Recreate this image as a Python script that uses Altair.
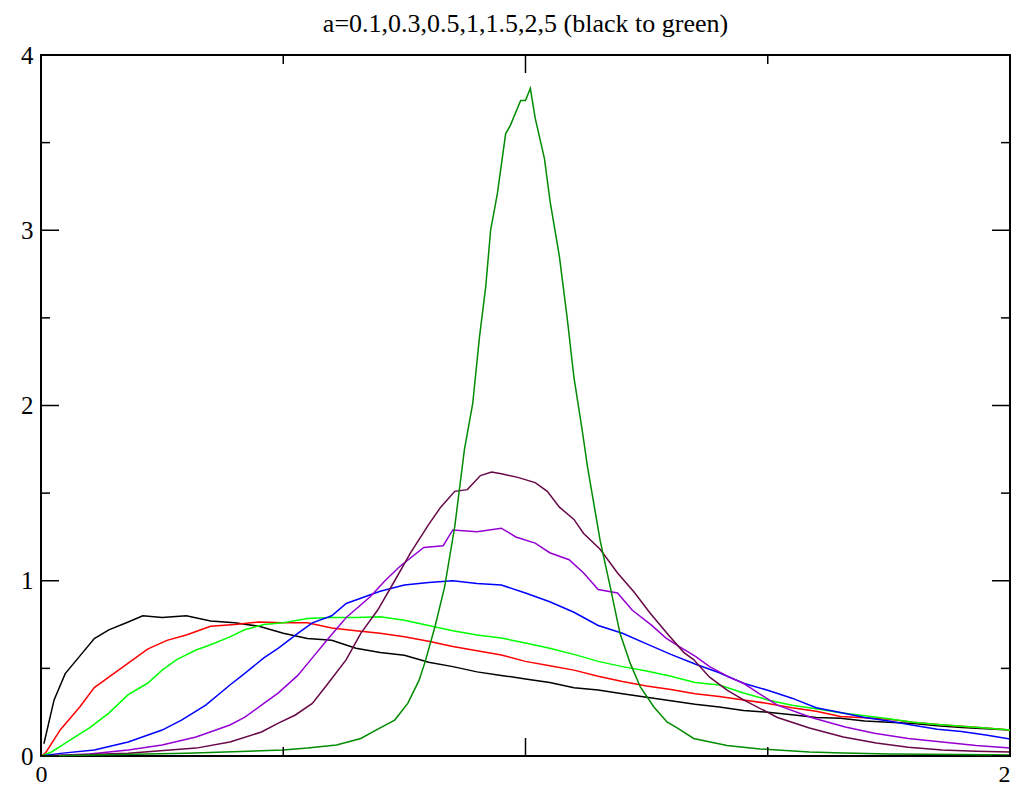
import altair as alt
import pandas as pd

TITLE = "a=0.1,0.3,0.5,1,1.5,2,5 (black to green)"

series_names = ["a=0.1", "a=0.3", "a=0.5", "a=1", "a=1.5", "a=2", "a=5"]
series_colors = ["#000000", "#ff0000", "#00ff00", "#0000ff", "#9400d3", "#670748", "#008b00"]

x_a01 = [0.006, 0.027, 0.05, 0.08, 0.11, 0.14, 0.18, 0.21, 0.25, 0.3, 0.35, 0.4, 0.45, 0.5, 0.55, 0.6, 0.65, 0.7,
         0.75, 0.8, 0.85, 0.9, 0.95, 1.0, 1.05, 1.1, 1.15, 1.2, 1.25, 1.3, 1.35, 1.4, 1.45, 1.5, 1.55, 1.6, 1.65,
         1.7, 1.75, 1.8, 1.85, 1.9, 1.95, 2.0]
y_a01 = [0.07, 0.32, 0.47, 0.57, 0.67, 0.72, 0.765, 0.80, 0.79, 0.80, 0.77, 0.76, 0.74, 0.70, 0.67, 0.66, 0.615, 0.59,
         0.575, 0.535, 0.51, 0.48, 0.46, 0.44, 0.42, 0.39, 0.376, 0.355, 0.335, 0.315, 0.295, 0.28, 0.26, 0.25, 0.235,
         0.22, 0.215, 0.20, 0.192, 0.186, 0.172, 0.163, 0.155, 0.148]

x_a03 = [0.0, 0.01, 0.04, 0.08, 0.11, 0.15, 0.18, 0.22, 0.26, 0.3, 0.35, 0.4, 0.45, 0.5, 0.55, 0.6, 0.65, 0.7, 0.75,
         0.8, 0.85, 0.9, 0.95, 1.0, 1.05, 1.1, 1.15, 1.2, 1.25, 1.3, 1.35, 1.4, 1.45, 1.5, 1.55, 1.6, 1.65, 1.7,
         1.75, 1.8, 1.85, 1.9, 1.95, 2.0]
y_a03 = [0.0, 0.02, 0.15, 0.28, 0.39, 0.47, 0.53, 0.61, 0.66, 0.69, 0.74, 0.75, 0.765, 0.76, 0.76, 0.73, 0.715, 0.70,
         0.68, 0.655, 0.625, 0.60, 0.576, 0.54, 0.515, 0.49, 0.455, 0.425, 0.40, 0.38, 0.355, 0.34, 0.32, 0.30,
         0.275, 0.255, 0.225, 0.218, 0.21, 0.192, 0.18, 0.17, 0.16, 0.148]

x_a05 = [0.0, 0.02, 0.06, 0.1, 0.14, 0.18, 0.22, 0.25, 0.28, 0.32, 0.35, 0.39, 0.42, 0.46, 0.5, 0.55, 0.6, 0.65, 0.7,
         0.75, 0.8, 0.85, 0.9, 0.95, 1.0, 1.05, 1.1, 1.15, 1.2, 1.25, 1.3, 1.35, 1.4, 1.45, 1.5, 1.55, 1.6, 1.65,
         1.7, 1.75, 1.8, 1.85, 1.9, 1.95, 2.0]
y_a05 = [0.0, 0.02, 0.09, 0.16, 0.245, 0.35, 0.415, 0.49, 0.55, 0.605, 0.635, 0.68, 0.72, 0.75, 0.76, 0.785, 0.79,
         0.79, 0.795, 0.775, 0.745, 0.715, 0.69, 0.673, 0.645, 0.615, 0.58, 0.54, 0.51, 0.485, 0.455, 0.42, 0.405,
         0.36, 0.32, 0.29, 0.27, 0.247, 0.23, 0.212, 0.192, 0.18, 0.17, 0.16, 0.148]

x_a1 = [0.0, 0.04, 0.11, 0.18, 0.25, 0.29, 0.34, 0.39, 0.42, 0.46, 0.49, 0.53, 0.56, 0.6, 0.63, 0.68, 0.7, 0.75, 0.8,
        0.85, 0.9, 0.95, 1.0, 1.05, 1.1, 1.15, 1.2, 1.25, 1.3, 1.35, 1.4, 1.45, 1.5, 1.55, 1.6, 1.65, 1.7, 1.75,
        1.8, 1.85, 1.9, 1.95, 2.0]
y_a1 = [0.0, 0.015, 0.034, 0.08, 0.148, 0.205, 0.29, 0.405, 0.47, 0.56, 0.616, 0.70, 0.76, 0.80, 0.87, 0.92, 0.94,
        0.976, 0.99, 1.0, 0.985, 0.976, 0.93, 0.88, 0.82, 0.745, 0.70, 0.64, 0.58, 0.525, 0.475, 0.415, 0.375,
        0.33, 0.275, 0.248, 0.22, 0.20, 0.175, 0.152, 0.14, 0.12, 0.097]

x_a15 = [0.0, 0.1, 0.18, 0.25, 0.32, 0.39, 0.42, 0.46, 0.49, 0.53, 0.56, 0.59, 0.63, 0.68, 0.71, 0.74, 0.79, 0.83,
         0.85, 0.9, 0.95, 0.98, 1.02, 1.05, 1.09, 1.12, 1.15, 1.19, 1.22, 1.26, 1.29, 1.32, 1.35, 1.38, 1.42, 1.45,
         1.48, 1.52, 1.59, 1.66, 1.72, 1.79, 1.86, 1.93, 2.0]
y_a15 = [0.0, 0.012, 0.034, 0.063, 0.108, 0.177, 0.22, 0.30, 0.36, 0.46, 0.56, 0.66, 0.79, 0.91, 1.0, 1.08, 1.19,
         1.20, 1.29, 1.28, 1.30, 1.25, 1.215, 1.16, 1.12, 1.044, 0.95, 0.93, 0.833, 0.747, 0.673, 0.62, 0.57, 0.51,
         0.45, 0.415, 0.36, 0.29, 0.22, 0.166, 0.13, 0.10, 0.08, 0.06, 0.045]

x_a2 = [0.0, 0.18, 0.32, 0.39, 0.455, 0.49, 0.525, 0.56, 0.59, 0.63, 0.66, 0.695, 0.73, 0.763, 0.8, 0.825, 0.854,
        0.88, 0.907, 0.93, 0.95, 0.984, 1.02, 1.045, 1.07, 1.1, 1.12, 1.154, 1.19, 1.224, 1.257, 1.292, 1.327,
        1.347, 1.38, 1.416, 1.45, 1.52, 1.586, 1.656, 1.724, 1.79, 1.86, 1.93, 2.0]
y_a2 = [0.0, 0.015, 0.045, 0.08, 0.137, 0.188, 0.234, 0.30, 0.405, 0.55, 0.70, 0.833, 1.0, 1.16, 1.32, 1.42, 1.51,
        1.52, 1.60, 1.62, 1.61, 1.59, 1.56, 1.51, 1.42, 1.35, 1.27, 1.18, 1.044, 0.936, 0.816, 0.70, 0.59, 0.55,
        0.45, 0.376, 0.32, 0.22, 0.16, 0.108, 0.074, 0.05, 0.034, 0.027, 0.023]

x_a5 = [0.0, 0.3, 0.5, 0.55, 0.61, 0.66, 0.70, 0.73, 0.757, 0.78, 0.792, 0.813, 0.833, 0.854, 0.874, 0.891, 0.905,
        0.918, 0.928, 0.942, 0.959, 0.969, 0.99, 1.0, 1.01, 1.02, 1.039, 1.051, 1.07, 1.086, 1.10, 1.117, 1.128,
        1.154, 1.175, 1.195, 1.216, 1.237, 1.265, 1.292, 1.313, 1.347, 1.416, 1.484, 1.52, 1.586, 1.656, 1.75,
        1.9, 2.0]
y_a5 = [0.0, 0.015, 0.034, 0.045, 0.063, 0.10, 0.16, 0.205, 0.30, 0.43, 0.53, 0.736, 0.964, 1.31, 1.75, 2.01, 2.39,
        2.68, 3.0, 3.21, 3.55, 3.60, 3.74, 3.74, 3.81, 3.64, 3.41, 3.16, 2.85, 2.50, 2.16, 1.86, 1.65, 1.23, 0.964,
        0.70, 0.53, 0.394, 0.28, 0.194, 0.16, 0.10, 0.06, 0.04, 0.034, 0.023, 0.017, 0.012, 0.008, 0.006]

x_major = [0, 1, 2]
x_minor = [0.5, 1.5]
y_major = [0, 1, 2, 3, 4]
y_minor = [0.5, 1.5, 2.5, 3.5]

W, H = 969, 701
FONT = "Liberation Serif"

xs = [x_a01, x_a03, x_a05, x_a1, x_a15, x_a2, x_a5]
ys = [y_a01, y_a03, y_a05, y_a1, y_a15, y_a2, y_a5]

xscale = alt.Scale(domain=[0, 2], nice=False, zero=False)
yscale = alt.Scale(domain=[0, 4], nice=False, zero=False)

xaxis = alt.Axis(values=x_major, title=None, ticks=False, grid=False, domain=False,
                 labelFont=FONT, labelFontSize=24, labelColor="black", labelPadding=25,
                 labelFlush=False, labelOverlap=False, labelBound=False, labelBaseline="alphabetic",
                 labelAlign={"condition": {"test": "datum.value == 2", "value": "right"}, "value": "center"},
                 format="d")
yaxis = alt.Axis(values=y_major, title=None, ticks=False, grid=False, domain=False,
                 labelFont=FONT, labelFontSize=25, labelColor="black", labelPadding=8,
                 labelFlush=False, labelOverlap=False, labelBound=False, labelBaseline="middle",
                 format="d")

layers = []
for i, col in enumerate(series_colors):
    df = pd.DataFrame({"x": xs[i], "y": ys[i], "series": series_names[i]})
    layers.append(
        alt.Chart(df).mark_line(color=col, strokeWidth=1.5).encode(
            x=alt.X("x:Q", scale=xscale, axis=xaxis),
            y=alt.Y("y:Q", scale=yscale, axis=yaxis),
        )
    )

tick_style = dict(color="black", strokeWidth=1.5)


def xticks(vals, length):
    df = pd.DataFrame({"x": vals})
    b = alt.Chart(df).mark_rule(**tick_style).encode(
        x=alt.X("x:Q", scale=xscale, axis=xaxis), y=alt.value(H), y2=alt.value(H - length))
    t = alt.Chart(df).mark_rule(**tick_style).encode(
        x=alt.X("x:Q", scale=xscale, axis=xaxis), y=alt.value(0), y2=alt.value(length))
    return [b, t]


def yticks(vals, length):
    df = pd.DataFrame({"y": vals})
    l = alt.Chart(df).mark_rule(**tick_style).encode(
        y=alt.Y("y:Q", scale=yscale, axis=yaxis), x=alt.value(0), x2=alt.value(length))
    r = alt.Chart(df).mark_rule(**tick_style).encode(
        y=alt.Y("y:Q", scale=yscale, axis=yaxis), x=alt.value(W), x2=alt.value(W - length))
    return [l, r]


tick_layers = xticks(x_major, 18) + xticks(x_minor, 9) + yticks(y_major, 18) + yticks(y_minor, 9)

chart = alt.layer(*layers, *tick_layers).properties(
    width=W, height=H,
    title=alt.TitleParams(TITLE, font=FONT, fontSize=26, fontWeight="normal", color="black",
                          anchor="middle", offset=6),
    padding={"left": 33, "top": 47, "right": 1, "bottom": 31},
    autosize=alt.AutoSizeParams(type="none"),
    background="white",
).configure_view(stroke="black", strokeWidth=2)

chart.save("out.html", embed_options={"renderer": "svg", "actions": False})
